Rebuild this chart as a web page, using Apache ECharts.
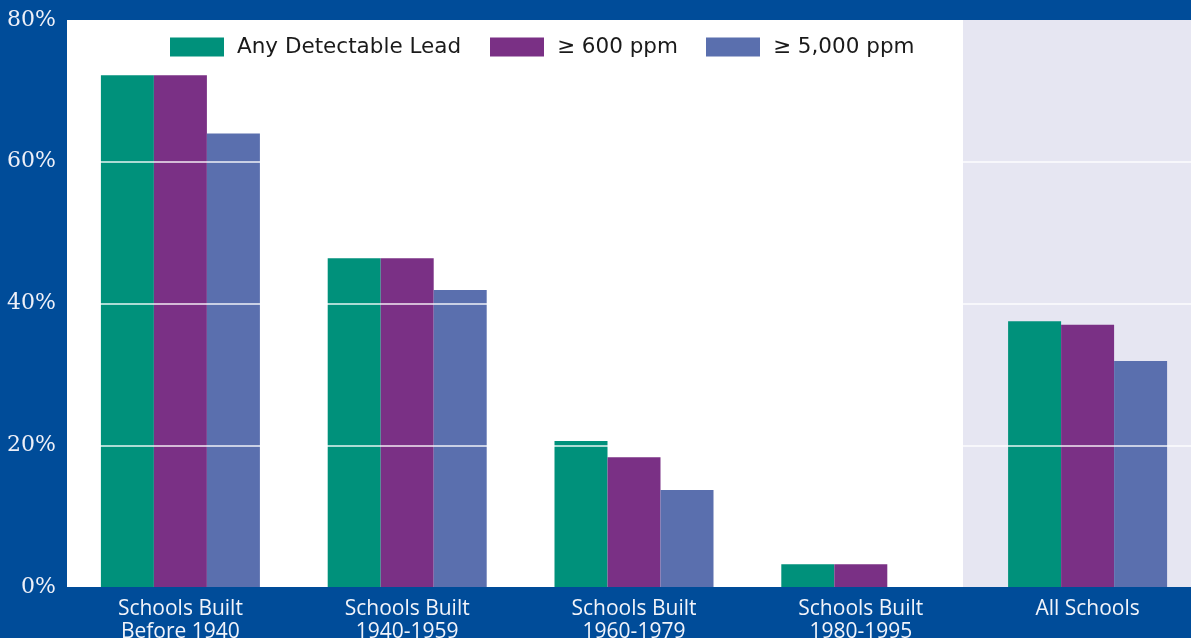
<!DOCTYPE html>
<html>
<head>
<meta charset="utf-8">
<script src="https://cdn.jsdelivr.net/npm/echarts@6/dist/echarts.min.js"></script>
<style>
html,body{margin:0;padding:0;background:#004c99;}
#main{width:1191px;height:638px;}
</style>
</head>
<body>
<div id="main"></div>
<script>
var categories = ['Schools Built\nBefore 1940', 'Schools Built\n1940-1959', 'Schools Built\n1960-1979', 'Schools Built\n1980-1995', 'All Schools'];
var seriesNames = ['Any Detectable Lead', '\u2265 600 ppm', '\u2265 5,000 ppm'];
var anyLead = [72.2, 46.4, 20.6, 3.2, 37.5];
var over600 = [72.2, 46.4, 18.3, 3.2, 37.0];
var over5000 = [64.0, 41.9, 13.7, 0, 31.9];
var yTicks = [0, 20, 40, 60, 80];

var colors = ['#00917b', '#7a3085', '#5a6fae'];
var legendLefts = [170, 490, 706];
var chart = echarts.init(document.getElementById('main'));
var values = [anyLead, over600, over5000];
chart.setOption({
  backgroundColor: '#004c99',
  animation: false,
  color: colors,
  legend: seriesNames.map(function(n, i){
    return {
      left: legendLefts[i], top: 36, padding: 0,
      itemWidth: 54, itemHeight: 19,
      icon: 'rect',
      textStyle: {color: '#1a1a1a', fontSize: 21.5, fontFamily: '"DejaVu Sans", sans-serif', padding: [0,0,0,8]},
      data: [n]
    };
  }),
  grid: {left: 67, top: 20, bottom: 51, width: 1134, show: true, backgroundColor: '#ffffff', borderWidth: 0, outerBoundsMode: 'none', containLabel: false},
  graphic: [{
    type: 'rect', z: 1,
    shape: {x: 963, y: 20, width: 240, height: 567},
    style: {fill: '#e6e6f2'}
  }],
  xAxis: {
    type: 'category', data: categories,
    axisLine: {show: false}, axisTick: {show: false},
    axisLabel: {color: '#f2f4fa', fontSize: 21, lineHeight: 23, margin: 11, fontFamily: '"Open Sans", "Noto Sans", sans-serif', interval: 0}
  },
  yAxis: {
    type: 'value', min: yTicks[0], max: yTicks[yTicks.length-1], interval: 20, z: 10,
    axisLine: {show: false}, axisTick: {show: false},
    axisLabel: {color: '#eef0f8', fontSize: 22, margin: 11, padding: [4,0,0,0], fontFamily: '"DejaVu Serif", "Liberation Serif", serif', formatter: '{value}%'},
    splitLine: {show: true, showMinLine: false, showMaxLine: false, lineStyle: {color: 'rgba(255,255,255,0.9)', width: 1.5}}
  },
  series: seriesNames.map(function(n, i){
    return {name: n, type: 'bar', data: values[i], barWidth: 53, barGap: '0%', z: 2};
  })
});
</script>
</body>
</html>
